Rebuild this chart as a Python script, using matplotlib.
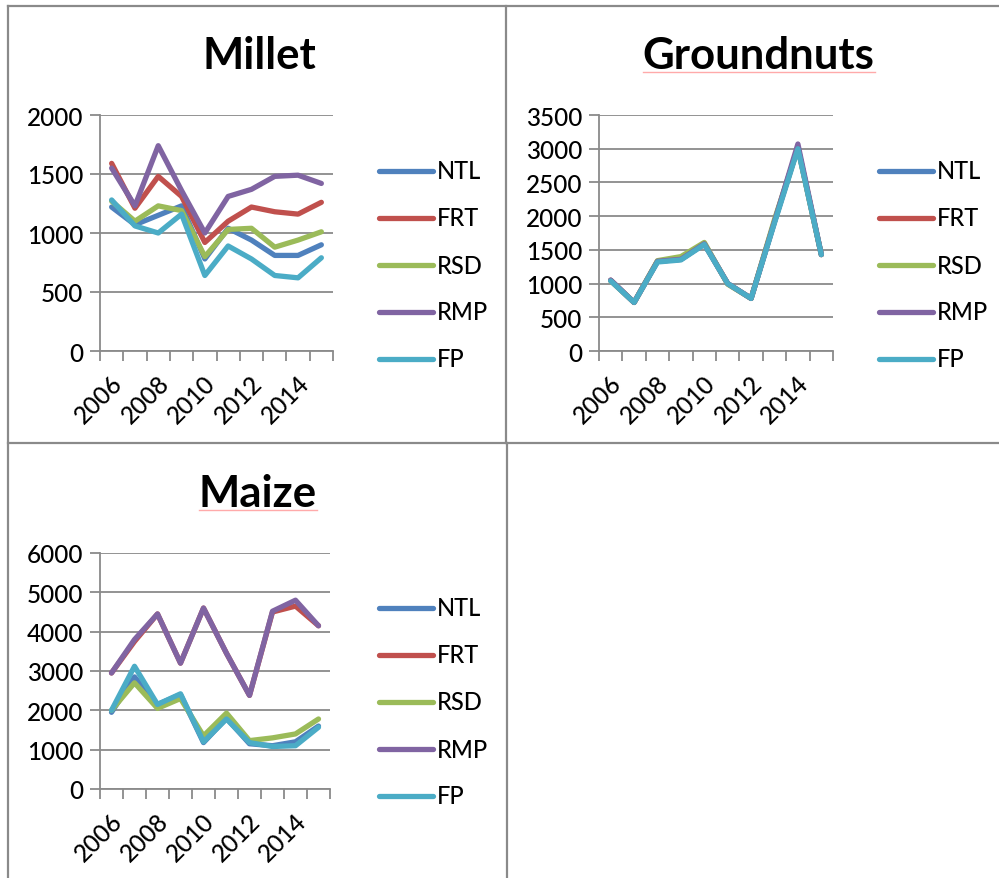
import matplotlib.pyplot as plt
import matplotlib.transforms as mtransforms
from matplotlib.lines import Line2D

plt.rcParams['font.family'] = ['Lato', 'DejaVu Sans']
plt.rcParams['font.weight'] = 'medium'

years = [2006, 2007, 2008, 2009, 2010, 2011, 2012, 2013, 2014, 2015]
series_names = ['NTL', 'FRT', 'RSD', 'RMP', 'FP']
colors = ['#4F81BD', '#C0504D', '#9BBB59', '#8064A2', '#4BACC6']

millet_ntl = [1220, 1070, 1150, 1230, 780, 1040, 940, 810, 810, 900]
millet_frt = [1590, 1210, 1480, 1310, 920, 1100, 1220, 1180, 1160, 1260]
millet_rsd = [1270, 1100, 1230, 1190, 800, 1030, 1040, 880, 940, 1010]
millet_rmp = [1550, 1230, 1740, 1360, 1000, 1310, 1370, 1480, 1490, 1420]
millet_fp = [1280, 1060, 1000, 1160, 640, 890, 780, 640, 620, 790]

gnut_ntl = [1050, 720, 1330, 1360, 1590, 1000, 780, 1920, 3020, 1430]
gnut_frt = [1050, 720, 1330, 1360, 1590, 1000, 780, 1920, 3020, 1430]
gnut_rsd = [1040, 720, 1340, 1400, 1610, 990, 780, 1950, 3010, 1430]
gnut_rmp = [1050, 720, 1330, 1360, 1590, 1000, 780, 1920, 3070, 1430]
gnut_fp = [1040, 720, 1320, 1350, 1580, 1000, 780, 1900, 3000, 1430]

maize_ntl = [1950, 2850, 2150, 2400, 1180, 1800, 1150, 1100, 1200, 1600]
maize_frt = [2950, 3750, 4450, 3200, 4600, 3450, 2380, 4500, 4650, 4150]
maize_rsd = [2000, 2700, 2050, 2300, 1350, 1930, 1230, 1300, 1400, 1780]
maize_rmp = [2950, 3800, 4450, 3200, 4600, 3450, 2380, 4520, 4800, 4150]
maize_fp = [2000, 3120, 2150, 2420, 1200, 1780, 1180, 1080, 1100, 1570]

W, H = 999, 879
fig = plt.figure(figsize=(W / 100, H / 100), dpi=100)

def px_rect(x0, y0, x1, y1):
    return [x0 / W, 1 - y1 / H, (x1 - x0) / W, (y1 - y0) / H]

def fline(x0, y0, x1, y1, **kw):
    fig.add_artist(Line2D([x0 / W, x1 / W], [1 - y0 / H, 1 - y1 / H], **kw))

# table borders
tb = dict(color='#8a8a8a', lw=1.6)
fline(8, 7, 999, 7, **tb)
fline(8, 7, 8, 879, **tb)
fline(506, 7, 506, 444, **tb)
fline(507, 444, 507, 879, **tb)
fline(8, 444, 999, 444, **tb)

def chart(rect, title, title_xy, data, ymax, ystep, leg_x, leg_y0, squiggle=None):
    ax = fig.add_axes(px_rect(*rect))
    x = list(range(len(years)))
    for vals, c in zip(data, colors):
        ax.plot(x, vals, color=c, lw=3.8, solid_capstyle='round', solid_joinstyle='round')
    ax.set_xlim(-0.5, len(years) - 0.5)
    ax.set_ylim(0, ymax)
    ax.set_yticks(range(0, ymax + 1, ystep))
    ax.grid(axis='y', color='#8a8a8a', lw=1.3)
    ax.set_axisbelow(True)
    for s in ['top', 'right']:
        ax.spines[s].set_visible(False)
    for s in ['left', 'bottom']:
        ax.spines[s].set_color('#8a8a8a')
        ax.spines[s].set_linewidth(1.3)
    ax.tick_params(axis='y', length=7, width=1.3, color='#8a8a8a', labelsize=17.5, pad=5)
    ax.set_xticks([i for i in x if i % 2 == 0])
    ax.set_xticklabels([str(years[i]) for i in x if i % 2 == 0], rotation=45,
                       ha='right', va='center', rotation_mode='anchor', fontsize=17.5)
    ax.tick_params(axis='x', length=0, pad=20)
    shift = mtransforms.ScaledTranslation(7 / 100, 0, fig.dpi_scale_trans)
    for lab in ax.get_xticklabels():
        lab.set_transform(lab.get_transform() + shift)
    ax.set_xticks([i - 0.5 for i in range(len(years) + 1)], minor=True)
    ax.tick_params(axis='x', which='minor', length=7, width=1.3, color='#8a8a8a')
    fig.text(title_xy[0] / W, 1 - title_xy[1] / H, title, fontsize=31.5, fontweight='bold',
             ha='center', va='center')
    if squiggle:
        fline(*squiggle, color='#ffaaaa', lw=1.0)
    for i, (name, c) in enumerate(zip(series_names, colors)):
        yy = leg_y0 + i * 47
        fline(leg_x, yy, leg_x + 54, yy, color=c, lw=3.8, solid_capstyle='round')
        fig.text((leg_x + 58) / W, 1 - yy / H, name, fontsize=17, ha='left', va='center')
    return ax

chart((100, 116, 333, 352), 'Millet', (259, 56),
      [millet_ntl, millet_frt, millet_rsd, millet_rmp, millet_fp], 2000, 500, 379, 172)
chart((599, 116, 833, 352), 'Groundnuts', (758, 56),
      [gnut_ntl, gnut_frt, gnut_rsd, gnut_rmp, gnut_fp], 3500, 500, 879, 172,
      squiggle=(643, 73, 875, 73))
chart((100, 554, 330, 790), 'Maize', (258, 494),
      [maize_ntl, maize_frt, maize_rsd, maize_rmp, maize_fp], 6000, 1000, 379, 609,
      squiggle=(199, 511, 317, 511))

fig.savefig('out.png', dpi=100)
